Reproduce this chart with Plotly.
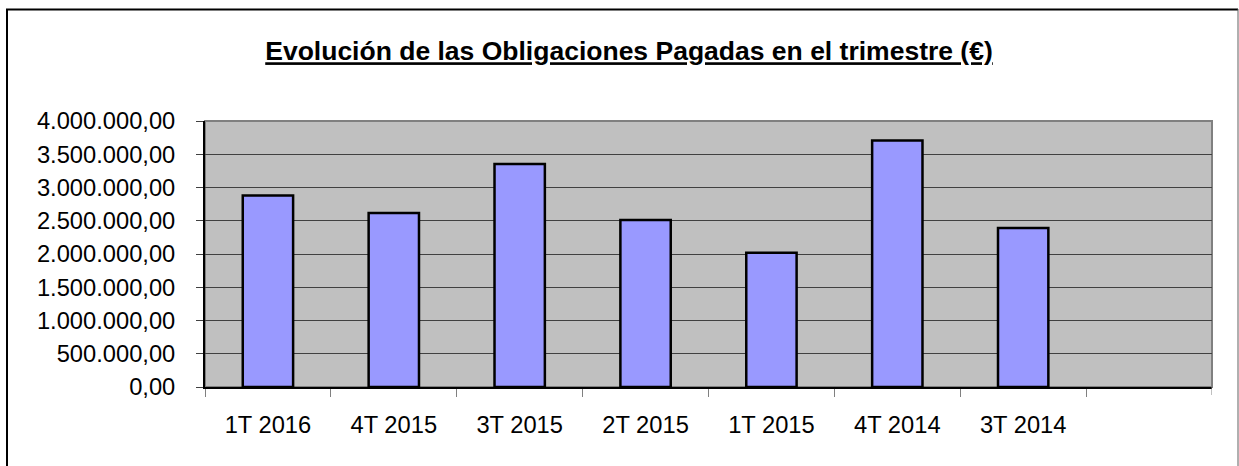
import plotly.graph_objects as go

categories = ["1T 2016", "4T 2015", "3T 2015", "2T 2015", "1T 2015", "4T 2014", "3T 2014"]
values = [2880000, 2615000, 3355000, 2510000, 2020000, 3705000, 2390000]
title_text = "Evolución de las Obligaciones Pagadas en el trimestre (€)"

W, H = 1239, 466
L, R, T, B = 205, 27, 121, 79
pw, ph = W - L - R, H - T - B

def px_x(p):
    return (p - L) / pw

def px_y(p):
    return (H - B - p) / ph

font = "Arial, Liberation Sans, sans-serif"

fig = go.Figure()
fig.add_trace(go.Bar(
    x=categories, y=values, width=0.4,
    marker=dict(color="#9999FF", line=dict(color="#000000", width=2.5)),
))

fig.update_layout(
    width=W, height=H,
    margin=dict(l=L, r=R, t=T, b=B),
    paper_bgcolor="white",
    plot_bgcolor="#C0C0C0",
    separators=",.",
    showlegend=False,
    font=dict(family=font, color="#000000", size=23.7),
    title=dict(
        text="<b><u>" + title_text + "</u></b>",
        x=629 / W, xanchor="center", xref="container",
        y=1 - 51 / H, yanchor="middle", yref="container",
        font=dict(family=font, size=26.5, color="#000000"),
    ),
    bargap=0.6,
)

fig.update_xaxes(
    type="category",
    range=[-0.5, 7.5],
    tickson="boundaries",
    ticks="outside", ticklen=8, tickcolor="#808080", tickwidth=1,
    showgrid=False,
    showline=True, linecolor="#000000", linewidth=2,
    tickfont=dict(family=font, size=23.7),
    ticklabelstandoff=16,
)
fig.update_yaxes(
    range=[0, 4000000], dtick=500000,
    tickformat=",.2f",
    ticks="outside", ticklen=7, tickcolor="#404040", tickwidth=1,
    showgrid=True, gridcolor="#404040", gridwidth=1,
    showline=True, linecolor="#000000", linewidth=2,
    zeroline=False,
    tickfont=dict(family=font, size=23.7),
    ticklabelstandoff=16,
)

# plot area border (top/right grey)
fig.add_shape(type="rect", xref="paper", yref="paper", x0=0, x1=1, y0=0, y1=1,
              line=dict(color="#808080", width=2), layer="below")
# final category boundary tick
fig.add_shape(type="line", xref="x", yref="paper", x0=7.5, x1=7.5, y0=0, y1=-8 / ph,
              line=dict(color="#808080", width=1))
# outer chart border
fig.add_shape(type="line", xref="paper", yref="paper",
              x0=px_x(7), x1=px_x(7), y0=px_y(9), y1=px_y(470),
              line=dict(color="#000000", width=2))
fig.add_shape(type="line", xref="paper", yref="paper",
              x0=px_x(6), x1=px_x(1238), y0=px_y(9.5), y1=px_y(9.5),
              line=dict(color="#000000", width=2))
fig.add_shape(type="line", xref="paper", yref="paper",
              x0=px_x(1238), x1=px_x(1238), y0=px_y(9), y1=px_y(470),
              line=dict(color="#606060", width=1))

fig.write_html("out.html", config={"displayModeBar": False},
               post_script="document.body.style.margin='0';")
